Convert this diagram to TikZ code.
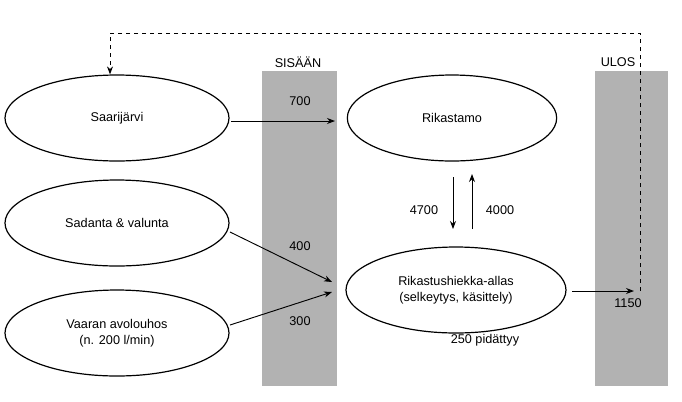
\documentclass[tikz,border=0pt]{standalone}
\usepackage{fontspec}
\setmainfont{Liberation Sans}
\usetikzlibrary{shapes.geometric,arrows.meta}
\begin{document}
\begin{tikzpicture}[x=0.75pt,y=-0.75pt,
  every node/.style={font=\fontsize{9.5}{12}\selectfont},
  ell/.style={draw,ellipse,line width=0.9pt,inner sep=0pt,align=center,minimum height=64.5pt},
  arr/.style={-{Stealth[length=6pt,width=4.5pt]},line width=0.7pt},
  lbl/.style={inner sep=1pt}]
\useasboundingbox (0,0) rectangle (682,401);
\fill[black!30] (262,71) rectangle (337,386);
\fill[black!30] (595,71) rectangle (668,386);
\node (sis) at (298,62) {SISÄÄN};
\node (ulos) at (618,62) {ULOS};
\node[ell,minimum width=168pt] (saari) at (117,118) {Saarijärvi};
\node[ell,minimum width=168pt] (sad) at (117,223) {Sadanta \& valunta};
\node[ell,minimum width=168pt] (vaa) at (117,333) {Vaaran avolouhos\\(n. 200 l/min)};
\node[ell,minimum width=157pt] (rik) at (452,118) {Rikastamo};
\node[ell,minimum width=165pt] (allas) at (456,290) {Rikastushiekka-allas\\(selkeytys, käsittely)};
\coordinate (a1) at (231,121); \coordinate (b1) at (335,121);
\draw[arr] (a1) -- (b1);
\node[lbl] (l700) at (300,101) {700};
\coordinate (a2) at (230,232); \coordinate (b2) at (332,282);
\draw[arr] (a2) -- (b2);
\node[lbl] (l400) at (300,246) {400};
\coordinate (a3) at (230,325); \coordinate (b3) at (332,292);
\draw[arr] (a3) -- (b3);
\node[lbl] (l300) at (300,321) {300};
\coordinate (d1) at (453,177); \coordinate (d2) at (453,229);
\draw[arr] (d1) -- (d2);
\coordinate (u1) at (472,229); \coordinate (u2) at (472,174);
\draw[arr] (u1) -- (u2);
\node[lbl] (l4700) at (424,210) {4700};
\node[lbl] (l4000) at (500,210) {4000};
\coordinate (o1) at (572,291); \coordinate (o2) at (634,291);
\draw[arr] (o1) -- (o2);
\node[lbl] (l1150) at (628,303) {1150};
\node[lbl] (l250) at (485,340) {250 pidättyy};
\draw[dashed,line width=0.7pt,-{Stealth[length=6pt,width=4.5pt]}] (640,291) -- (640,33) -- (110,33) -- (saari.north -| 110,0);
\end{tikzpicture}
\end{document}
